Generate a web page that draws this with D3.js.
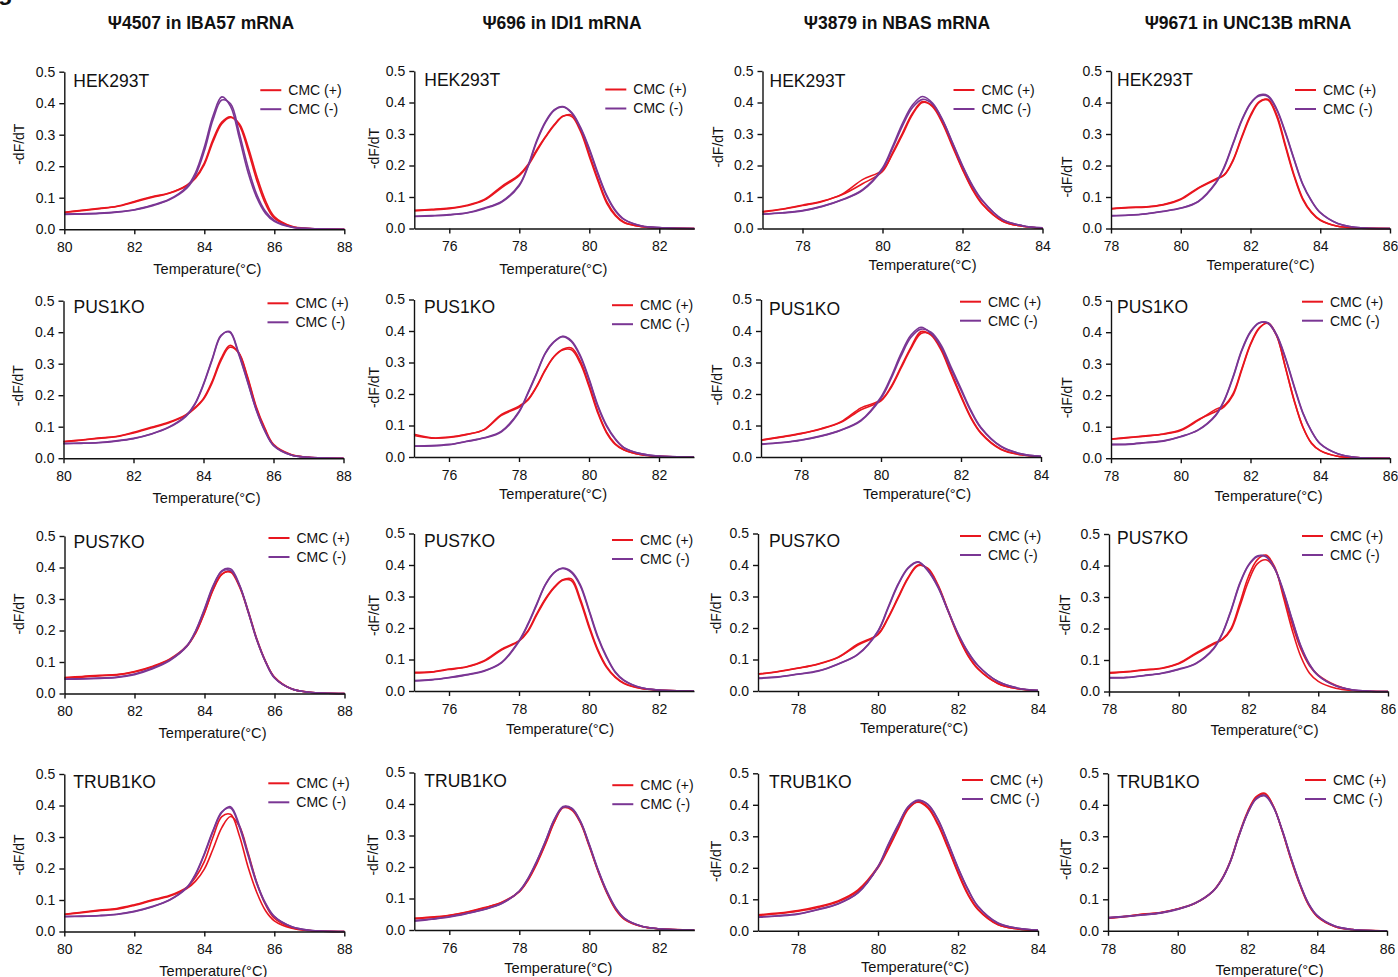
<!DOCTYPE html>
<html>
<head>
<meta charset="utf-8">
<script src="https://cdn.jsdelivr.net/npm/d3@7"></script>
<style>
  body { margin: 0; background: #fff; }
  text { font-family: Arial, "Liberation Sans", Helvetica, sans-serif; fill: #111; }
</style>
</head>
<body>
<svg></svg>
<script>
// column titles, row (cell line) labels
const colTitles = ['Ψ4507 in IBA57 mRNA', 'Ψ696 in IDI1 mRNA', 'Ψ3879 in NBAS mRNA', 'Ψ9671 in UNC13B mRNA'];
const rowLabels = ['HEK293T', 'PUS1KO', 'PUS7KO', 'TRUB1KO'];
const seriesNames = ['CMC (+)', 'CMC (-)'];

const xDomains = [[80, 88], [75, 83], [77, 84], [78, 86]];
const xTicks = [[80, 82, 84, 86, 88], [76, 78, 80, 82], [78, 80, 82, 84], [78, 80, 82, 84, 86]];
const yTicks = [0, 0.1, 0.2, 0.3, 0.4, 0.5];

// temperatures (°C) at which -dF/dT was read, one list per column
const tempsIBA57 = [80, 80.5, 81, 81.5, 82, 82.5, 83, 83.5, 83.75, 84, 84.25, 84.5, 84.75, 85, 85.25, 85.5, 85.75, 86, 86.5, 87, 88];
const tempsIDI1 = [75, 75.5, 76, 76.5, 77, 77.5, 78, 78.25, 78.5, 78.75, 79, 79.25, 79.5, 79.75, 80, 80.25, 80.5, 80.75, 81, 81.5, 82, 83];
const tempsNBAS = [77, 77.5, 78, 78.5, 79, 79.5, 80, 80.25, 80.5, 80.75, 81, 81.25, 81.5, 81.75, 82, 82.25, 82.5, 83, 83.5, 84];
const tempsUNC13B = [78, 78.5, 79, 79.5, 80, 80.5, 81, 81.25, 81.5, 81.75, 82, 82.25, 82.5, 82.75, 83, 83.25, 83.5, 83.75, 84, 84.5, 85, 86];

// IBA57 -dF/dT, two replicates per condition
const iba57Hek_plus = [
  [0.054,0.060,0.066,0.073,0.088,0.103,0.115,0.140,0.165,0.210,0.285,0.340,0.357,0.330,0.250,0.155,0.080,0.035,0.008,0.002,0],
  [0.053,0.059,0.065,0.072,0.086,0.101,0.114,0.138,0.162,0.205,0.278,0.335,0.355,0.335,0.262,0.168,0.090,0.040,0.009,0.002,0]];
const iba57Hek_minus = [
  [0.048,0.049,0.051,0.055,0.062,0.076,0.095,0.135,0.180,0.260,0.360,0.420,0.390,0.290,0.180,0.100,0.050,0.025,0.006,0.002,0],
  [0.047,0.048,0.050,0.054,0.061,0.074,0.093,0.130,0.172,0.248,0.348,0.410,0.398,0.305,0.196,0.110,0.056,0.028,0.007,0.002,0]];
const iba57Pus1_plus = [
  [0.053,0.058,0.064,0.069,0.082,0.098,0.114,0.138,0.160,0.190,0.245,0.316,0.358,0.335,0.258,0.162,0.093,0.042,0.011,0.003,0],
  [0.052,0.057,0.063,0.068,0.080,0.096,0.112,0.136,0.158,0.187,0.240,0.310,0.352,0.336,0.262,0.166,0.096,0.044,0.012,0.003,0]];
const iba57Pus1_minus = [
  [0.047,0.048,0.050,0.055,0.063,0.077,0.098,0.135,0.172,0.236,0.316,0.390,0.400,0.332,0.245,0.155,0.087,0.040,0.010,0.003,0],
  [0.046,0.047,0.049,0.054,0.062,0.076,0.097,0.133,0.170,0.233,0.313,0.388,0.402,0.336,0.248,0.157,0.088,0.041,0.010,0.003,0]];
const iba57Pus7_plus = [
  [0.051,0.054,0.058,0.060,0.070,0.086,0.109,0.152,0.194,0.258,0.332,0.380,0.385,0.338,0.258,0.168,0.099,0.051,0.014,0.004,0],
  [0.049,0.052,0.056,0.059,0.068,0.084,0.107,0.150,0.192,0.256,0.330,0.378,0.388,0.342,0.262,0.172,0.101,0.052,0.014,0.004,0]];
const iba57Pus7_minus = [
  [0.046,0.047,0.049,0.052,0.062,0.080,0.106,0.152,0.200,0.269,0.343,0.388,0.390,0.343,0.258,0.168,0.099,0.049,0.014,0.004,0],
  [0.045,0.046,0.048,0.051,0.060,0.078,0.104,0.150,0.198,0.266,0.340,0.390,0.395,0.345,0.260,0.170,0.100,0.050,0.014,0.004,0]];
const iba57Trub1_plus = [
  [0.055,0.061,0.068,0.073,0.085,0.100,0.114,0.140,0.172,0.222,0.300,0.365,0.372,0.305,0.205,0.124,0.066,0.034,0.010,0.003,0],
  [0.054,0.060,0.066,0.071,0.083,0.098,0.112,0.136,0.160,0.198,0.262,0.330,0.365,0.335,0.250,0.155,0.085,0.042,0.012,0.003,0]];
const iba57Trub1_minus = [
  [0.048,0.049,0.051,0.055,0.064,0.079,0.100,0.140,0.183,0.247,0.321,0.380,0.392,0.332,0.241,0.151,0.087,0.047,0.015,0.004,0],
  [0.047,0.048,0.050,0.054,0.063,0.078,0.099,0.138,0.180,0.244,0.318,0.378,0.396,0.338,0.246,0.155,0.090,0.048,0.015,0.004,0]];

// IDI1
const idi1Hek_plus = [
  [0.058,0.061,0.065,0.074,0.092,0.134,0.171,0.203,0.250,0.292,0.330,0.357,0.355,0.308,0.229,0.150,0.080,0.040,0.018,0.006,0.002,0],
  [0.056,0.059,0.063,0.072,0.090,0.130,0.168,0.200,0.246,0.290,0.328,0.356,0.360,0.315,0.236,0.156,0.085,0.043,0.020,0.006,0.002,0]];
const idi1Hek_minus = [
  [0.039,0.041,0.044,0.050,0.065,0.086,0.139,0.200,0.280,0.340,0.377,0.387,0.366,0.318,0.250,0.171,0.102,0.055,0.028,0.008,0.003,0],
  [0.038,0.040,0.043,0.049,0.063,0.084,0.136,0.196,0.276,0.337,0.375,0.386,0.368,0.321,0.254,0.175,0.105,0.057,0.029,0.008,0.003,0]];
const idi1Pus1_plus = [
  [0.072,0.061,0.063,0.072,0.087,0.135,0.161,0.182,0.224,0.277,0.319,0.340,0.340,0.298,0.224,0.140,0.077,0.040,0.022,0.007,0.002,0],
  [0.068,0.060,0.062,0.071,0.086,0.132,0.158,0.180,0.222,0.275,0.318,0.342,0.346,0.305,0.230,0.145,0.080,0.042,0.023,0.007,0.002,0]];
const idi1Pus1_minus = [
  [0.035,0.036,0.040,0.050,0.061,0.082,0.145,0.203,0.266,0.330,0.366,0.382,0.366,0.319,0.245,0.161,0.098,0.056,0.029,0.010,0.003,0],
  [0.034,0.035,0.039,0.049,0.060,0.080,0.142,0.200,0.263,0.328,0.365,0.383,0.369,0.323,0.249,0.165,0.101,0.058,0.030,0.010,0.003,0]];
const idi1Pus7_plus = [
  [0.059,0.061,0.070,0.077,0.096,0.133,0.160,0.191,0.244,0.292,0.329,0.352,0.350,0.286,0.202,0.128,0.075,0.043,0.024,0.008,0.003,0],
  [0.057,0.060,0.068,0.076,0.094,0.130,0.158,0.188,0.240,0.289,0.327,0.353,0.356,0.293,0.208,0.132,0.078,0.045,0.025,0.008,0.003,0]];
const idi1Pus7_minus = [
  [0.033,0.036,0.043,0.052,0.064,0.091,0.160,0.212,0.275,0.338,0.376,0.389,0.376,0.334,0.254,0.170,0.107,0.059,0.033,0.010,0.003,0],
  [0.032,0.035,0.042,0.051,0.063,0.089,0.157,0.209,0.272,0.336,0.375,0.390,0.379,0.338,0.258,0.174,0.110,0.061,0.034,0.010,0.003,0]];
const idi1Trub1_plus = [
  [0.037,0.041,0.047,0.057,0.071,0.088,0.123,0.160,0.213,0.276,0.344,0.388,0.381,0.339,0.265,0.186,0.118,0.065,0.034,0.011,0.004,0],
  [0.036,0.040,0.046,0.056,0.070,0.087,0.121,0.158,0.210,0.273,0.342,0.390,0.384,0.342,0.268,0.188,0.120,0.067,0.035,0.011,0.004,0]];
const idi1Trub1_minus = [
  [0.028,0.034,0.041,0.052,0.065,0.084,0.123,0.163,0.218,0.282,0.350,0.390,0.385,0.343,0.270,0.190,0.122,0.070,0.037,0.012,0.004,0],
  [0.030,0.035,0.042,0.053,0.066,0.085,0.124,0.164,0.219,0.283,0.351,0.392,0.387,0.345,0.272,0.192,0.124,0.071,0.038,0.012,0.004,0]];

// NBAS
const nbasHek_plus = [
  [0.054,0.062,0.074,0.087,0.108,0.142,0.181,0.240,0.303,0.366,0.403,0.387,0.334,0.260,0.187,0.123,0.076,0.023,0.007,0.001],
  [0.052,0.061,0.073,0.086,0.110,0.155,0.185,0.236,0.298,0.362,0.400,0.390,0.338,0.265,0.190,0.126,0.078,0.024,0.007,0.001]];
const nbasHek_minus = [
  [0.046,0.050,0.057,0.071,0.092,0.123,0.192,0.260,0.334,0.392,0.419,0.398,0.345,0.271,0.197,0.134,0.087,0.028,0.009,0.002],
  [0.045,0.049,0.056,0.070,0.091,0.121,0.188,0.254,0.326,0.384,0.410,0.395,0.345,0.273,0.200,0.137,0.089,0.029,0.009,0.002]];
const nbasPus1_plus = [
  [0.054,0.064,0.075,0.090,0.112,0.156,0.181,0.223,0.286,0.349,0.398,0.387,0.340,0.265,0.191,0.123,0.075,0.024,0.007,0.001],
  [0.053,0.063,0.074,0.089,0.110,0.150,0.178,0.220,0.282,0.344,0.392,0.390,0.345,0.270,0.195,0.126,0.077,0.025,0.007,0.001]];
const nbasPus1_minus = [
  [0.041,0.046,0.054,0.067,0.086,0.117,0.191,0.254,0.328,0.387,0.412,0.392,0.350,0.280,0.212,0.144,0.091,0.033,0.010,0.002],
  [0.040,0.045,0.053,0.066,0.085,0.115,0.186,0.248,0.320,0.380,0.406,0.396,0.356,0.286,0.217,0.148,0.094,0.034,0.010,0.002]];
const nbasPus7_plus = [
  [0.054,0.062,0.073,0.086,0.107,0.149,0.181,0.233,0.297,0.360,0.400,0.387,0.334,0.254,0.175,0.112,0.070,0.024,0.007,0.001],
  [0.053,0.061,0.072,0.085,0.106,0.146,0.179,0.230,0.294,0.357,0.398,0.389,0.337,0.257,0.178,0.114,0.071,0.024,0.007,0.001]];
const nbasPus7_minus = [
  [0.041,0.045,0.054,0.064,0.086,0.117,0.191,0.265,0.339,0.391,0.410,0.381,0.329,0.254,0.181,0.123,0.080,0.030,0.009,0.002],
  [0.040,0.044,0.053,0.063,0.085,0.116,0.189,0.262,0.336,0.389,0.409,0.383,0.331,0.256,0.183,0.124,0.081,0.030,0.009,0.002]];
const nbasTrub1_plus = [
  [0.051,0.056,0.064,0.077,0.095,0.130,0.204,0.262,0.326,0.389,0.408,0.389,0.336,0.262,0.183,0.114,0.067,0.019,0.006,0.001],
  [0.049,0.054,0.062,0.074,0.092,0.126,0.200,0.258,0.322,0.385,0.410,0.393,0.340,0.266,0.187,0.117,0.069,0.020,0.006,0.001]];
const nbasTrub1_minus = [
  [0.043,0.047,0.053,0.067,0.085,0.120,0.204,0.273,0.336,0.394,0.415,0.400,0.352,0.278,0.199,0.130,0.077,0.024,0.008,0.002],
  [0.044,0.048,0.054,0.068,0.086,0.121,0.202,0.270,0.333,0.392,0.413,0.401,0.354,0.280,0.201,0.132,0.078,0.025,0.008,0.002]];

// UNC13B
const unc13bHek_plus = [
  [0.063,0.067,0.069,0.076,0.094,0.129,0.157,0.171,0.218,0.292,0.360,0.403,0.408,0.356,0.260,0.166,0.092,0.050,0.026,0.007,0.002,0],
  [0.062,0.066,0.068,0.075,0.092,0.127,0.155,0.170,0.215,0.288,0.356,0.400,0.410,0.362,0.266,0.170,0.095,0.052,0.027,0.007,0.002,0]];
const unc13bHek_minus = [
  [0.041,0.043,0.047,0.055,0.065,0.086,0.145,0.197,0.271,0.345,0.398,0.421,0.419,0.377,0.303,0.218,0.139,0.087,0.050,0.016,0.004,0],
  [0.040,0.042,0.046,0.054,0.064,0.085,0.143,0.194,0.268,0.342,0.396,0.424,0.422,0.380,0.306,0.221,0.141,0.088,0.051,0.016,0.004,0]];
const unc13bPus1_plus = [
  [0.061,0.066,0.071,0.077,0.090,0.122,0.148,0.164,0.200,0.280,0.360,0.412,0.430,0.390,0.290,0.185,0.100,0.048,0.024,0.006,0.002,0],
  [0.060,0.065,0.070,0.076,0.088,0.120,0.155,0.168,0.205,0.284,0.363,0.414,0.428,0.388,0.288,0.183,0.099,0.047,0.024,0.006,0.002,0]];
const unc13bPus1_minus = [
  [0.044,0.045,0.050,0.055,0.069,0.090,0.137,0.185,0.259,0.344,0.402,0.430,0.428,0.390,0.317,0.227,0.143,0.085,0.045,0.014,0.003,0],
  [0.043,0.044,0.049,0.054,0.068,0.089,0.135,0.183,0.256,0.341,0.400,0.429,0.430,0.392,0.320,0.230,0.145,0.086,0.046,0.014,0.003,0]];
const unc13bPus7_plus = [
  [0.060,0.063,0.069,0.074,0.090,0.122,0.153,0.166,0.200,0.280,0.365,0.418,0.433,0.396,0.300,0.196,0.111,0.058,0.032,0.010,0.003,0],
  [0.058,0.062,0.068,0.073,0.088,0.120,0.150,0.165,0.196,0.270,0.350,0.405,0.418,0.390,0.310,0.215,0.135,0.082,0.052,0.020,0.004,0]];
const unc13bPus7_minus = [
  [0.044,0.045,0.051,0.058,0.071,0.090,0.137,0.185,0.259,0.344,0.402,0.430,0.428,0.390,0.317,0.227,0.143,0.085,0.050,0.018,0.005,0],
  [0.043,0.044,0.050,0.057,0.070,0.089,0.135,0.183,0.256,0.341,0.400,0.428,0.429,0.392,0.320,0.230,0.145,0.087,0.051,0.018,0.005,0]];
const unc13bTrub1_plus = [
  [0.040,0.045,0.053,0.058,0.070,0.088,0.125,0.162,0.220,0.304,0.378,0.426,0.437,0.394,0.315,0.225,0.146,0.082,0.045,0.014,0.004,0],
  [0.041,0.046,0.052,0.057,0.069,0.087,0.124,0.160,0.217,0.300,0.374,0.423,0.434,0.393,0.316,0.227,0.148,0.084,0.046,0.014,0.004,0]];
const unc13bTrub1_minus = [
  [0.041,0.045,0.050,0.056,0.068,0.087,0.124,0.160,0.217,0.300,0.372,0.420,0.430,0.392,0.318,0.230,0.150,0.086,0.048,0.015,0.004,0],
  [0.042,0.046,0.051,0.057,0.069,0.088,0.125,0.161,0.218,0.301,0.373,0.418,0.428,0.391,0.318,0.231,0.151,0.087,0.048,0.015,0.004,0]];

const temps = [tempsIBA57, tempsIDI1, tempsNBAS, tempsUNC13B];
// [row][col] -> [CMC(+) replicates, CMC(-) replicates]
const panelData = [
  [[iba57Hek_plus, iba57Hek_minus], [idi1Hek_plus, idi1Hek_minus], [nbasHek_plus, nbasHek_minus], [unc13bHek_plus, unc13bHek_minus]],
  [[iba57Pus1_plus, iba57Pus1_minus], [idi1Pus1_plus, idi1Pus1_minus], [nbasPus1_plus, nbasPus1_minus], [unc13bPus1_plus, unc13bPus1_minus]],
  [[iba57Pus7_plus, iba57Pus7_minus], [idi1Pus7_plus, idi1Pus7_minus], [nbasPus7_plus, nbasPus7_minus], [unc13bPus7_plus, unc13bPus7_minus]],
  [[iba57Trub1_plus, iba57Trub1_minus], [idi1Trub1_plus, idi1Trub1_minus], [nbasTrub1_plus, nbasTrub1_minus], [unc13bTrub1_plus, unc13bTrub1_minus]]
];

// ---- layout ----
const W = 1398, H = 977;
const colors = ['#e8161f', '#7a3694'];
const plotH = 157.5;
const plotW = [280, 280, 280, 279];
const titleX = [201, 562, 897, 1248];
// per panel: [x, top, legendDx, legendDy, labelDx, labelDy, xTitleDx, xTitleDy, yTitleDx, yTitleDy]
const frames = [
  [64.3, 71.7, 196, 18.5, 9, 15.5, 3, 45, -45, 72.5],
  [414.3, 71, 191, 18.5, 10, 15, -1, 45, -40, 77.5],
  [762.5, 71, 191, 19, 7, 15.5, 20, 41, -44, 76],
  [1111, 71, 184, 19, 6, 15, 10, 41, -44, 106],
  [63.5, 300.7, 204, 2.6, 10, 12.6, 3, 45, -45, 85],
  [414, 299.5, 198, 5.7, 10, 13.8, -1, 42, -40, 88],
  [761, 299.5, 199, 2.2, 8, 15, 16, 42, -44, 85.5],
  [1111, 300.7, 191, 1, 6, 12, 18, 43, -44, 97],
  [64.5, 536, 204, 2, 9, 12, 8, 44, -45, 78],
  [414, 533.5, 198, 6.5, 10, 13, 6, 43, -40, 82],
  [758, 533.5, 202, 2.5, 11, 13, 16, 42, -42, 80],
  [1109, 534, 193, 2, 8, 10.3, 16, 43, -44, 81],
  [64.3, 774, 204, 9.3, 9, 14.3, 9, 44, -45, 81],
  [414.3, 772.5, 198, 12.7, 10, 14, 4, 43, -41, 82.5],
  [758, 773.3, 204, 6.7, 11, 15, 17, 41, -42, 88],
  [1108, 773.3, 197, 6.7, 9, 14.4, 22, 44, -42, 86]
];

const svg = d3.select('svg').attr('width', W).attr('height', H);
svg.append('rect').attr('width', W).attr('height', H).attr('fill', '#fff');

// panel letter, cut off at the top-left corner as in the source figure
svg.append('text').attr('x', -2).attr('y', 0)
  .style('font-size', '24px').style('font-weight', 'bold').text('g');

colTitles.forEach((t, c) => {
  svg.append('text')
    .attr('x', titleX[c]).attr('y', 28.5)
    .attr('text-anchor', 'middle')
    .style('font-size', '17.5px').style('font-weight', 'bold')
    .text(t);
});

const yScale = d3.scaleLinear().domain([0, 0.5]).range([plotH, 0]);

frames.forEach((f, i) => {
  const row = Math.floor(i / 4), col = i % 4;
  const [px, top, lgDx, lgDy, lbDx, lbDy, xtDx, xtDy, ytDx, ytDy] = f;
  const g = svg.append('g').attr('transform', `translate(${px},${top})`);
  const x = d3.scaleLinear().domain(xDomains[col]).range([0, plotW[col]]);

  const line = d3.line()
    .x(d => x(d[0]))
    .y(d => yScale(Math.max(0, d[1])))
    .curve(d3.curveCatmullRom.alpha(0.5));

  // curves: CMC(+) first, CMC(-) on top
  panelData[row][col].forEach((reps, s) => {
    reps.forEach(vals => {
      const pts = temps[col].map((t, k) => [t, vals[k]]);
      g.append('path')
        .datum(pts)
        .attr('d', line)
        .attr('fill', 'none')
        .attr('stroke', colors[s])
        .attr('stroke-width', 1.6)
        .attr('stroke-linejoin', 'round');
    });
  });

  // axes
  const xAxis = g.append('g')
    .attr('transform', `translate(0,${plotH})`)
    .call(d3.axisBottom(x).tickValues(xTicks[col]).tickSize(5).tickSizeOuter(0).tickPadding(8).tickFormat(d3.format('d')));
  const yAxis = g.append('g')
    .call(d3.axisLeft(yScale).tickValues(yTicks).tickSize(5).tickSizeOuter(0).tickPadding(4).tickFormat(d3.format('.1f')));
  [xAxis, yAxis].forEach(a => {
    a.selectAll('path, line').attr('stroke', '#111').attr('stroke-width', 1.4);
    a.selectAll('text').style('font-size', '14px').attr('fill', '#111')
      .style('font-family', 'Arial, "Liberation Sans", sans-serif');
  });

  // axis titles
  g.append('text')
    .attr('x', plotW[col] / 2 + xtDx).attr('y', plotH + xtDy)
    .attr('text-anchor', 'middle')
    .style('font-size', '14.6px')
    .text('Temperature(°C)');
  g.append('text')
    .attr('transform', `translate(${ytDx},${ytDy}) rotate(-90)`)
    .attr('text-anchor', 'middle')
    .attr('dy', '0.35em')
    .style('font-size', '14px')
    .text('-dF/dT');

  // cell line label
  g.append('text')
    .attr('x', lbDx).attr('y', lbDy)
    .style('font-size', '17.5px')
    .text(rowLabels[row]);

  // legend
  seriesNames.forEach((name, s) => {
    const ly = lgDy + s * 19;
    g.append('line')
      .attr('x1', lgDx).attr('x2', lgDx + 21)
      .attr('y1', ly).attr('y2', ly)
      .attr('stroke', colors[s]).attr('stroke-width', 2);
    g.append('text')
      .attr('x', lgDx + 28).attr('y', ly)
      .attr('dy', '0.35em')
      .style('font-size', '14px')
      .text(name);
  });
});
</script>
</body>
</html>
